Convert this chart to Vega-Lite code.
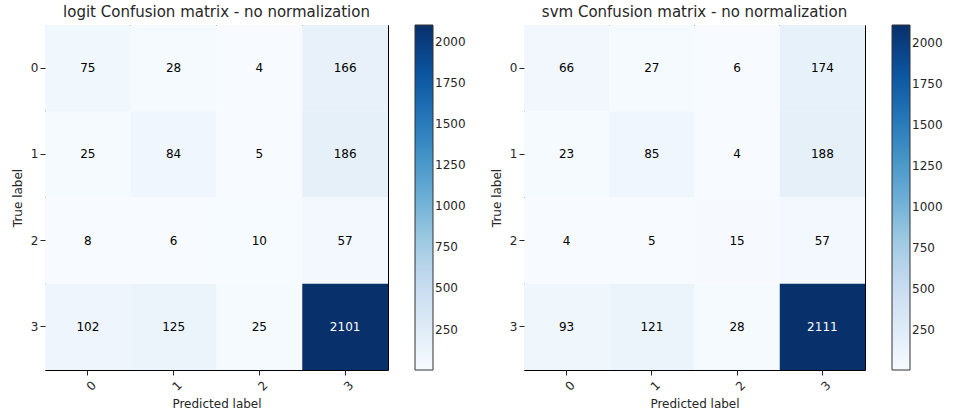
{
  "$schema": "https://vega.github.io/schema/vega-lite/v6.json",
  "padding": {"left": 10, "top": 4, "right": 0, "bottom": 0},
  "background": "white",
  "datasets": {
    "cm": [
      {"model": "logit", "true": "0", "pred": "0", "count": 75},
      {"model": "logit", "true": "0", "pred": "1", "count": 28},
      {"model": "logit", "true": "0", "pred": "2", "count": 4},
      {"model": "logit", "true": "0", "pred": "3", "count": 166},
      {"model": "logit", "true": "1", "pred": "0", "count": 25},
      {"model": "logit", "true": "1", "pred": "1", "count": 84},
      {"model": "logit", "true": "1", "pred": "2", "count": 5},
      {"model": "logit", "true": "1", "pred": "3", "count": 186},
      {"model": "logit", "true": "2", "pred": "0", "count": 8},
      {"model": "logit", "true": "2", "pred": "1", "count": 6},
      {"model": "logit", "true": "2", "pred": "2", "count": 10},
      {"model": "logit", "true": "2", "pred": "3", "count": 57},
      {"model": "logit", "true": "3", "pred": "0", "count": 102},
      {"model": "logit", "true": "3", "pred": "1", "count": 125},
      {"model": "logit", "true": "3", "pred": "2", "count": 25},
      {"model": "logit", "true": "3", "pred": "3", "count": 2101},
      {"model": "svm", "true": "0", "pred": "0", "count": 66},
      {"model": "svm", "true": "0", "pred": "1", "count": 27},
      {"model": "svm", "true": "0", "pred": "2", "count": 6},
      {"model": "svm", "true": "0", "pred": "3", "count": 174},
      {"model": "svm", "true": "1", "pred": "0", "count": 23},
      {"model": "svm", "true": "1", "pred": "1", "count": 85},
      {"model": "svm", "true": "1", "pred": "2", "count": 4},
      {"model": "svm", "true": "1", "pred": "3", "count": 188},
      {"model": "svm", "true": "2", "pred": "0", "count": 4},
      {"model": "svm", "true": "2", "pred": "1", "count": 5},
      {"model": "svm", "true": "2", "pred": "2", "count": 15},
      {"model": "svm", "true": "2", "pred": "3", "count": 57},
      {"model": "svm", "true": "3", "pred": "0", "count": 93},
      {"model": "svm", "true": "3", "pred": "1", "count": 121},
      {"model": "svm", "true": "3", "pred": "2", "count": 28},
      {"model": "svm", "true": "3", "pred": "3", "count": 2111}
    ]
  },
  "config": {
    "font": "DejaVu Sans",
    "view": {"stroke": "black", "strokeWidth": 1},
    "axis": {
      "labelFont": "DejaVu Sans", "labelFontSize": 12, "labelColor": "#262626",
      "titleFont": "DejaVu Sans", "titleFontSize": 12, "titleFontWeight": "normal", "titleColor": "#262626",
      "tickColor": "#262626", "tickSize": 5, "domain": false, "grid": false
    },
    "title": {"font": "DejaVu Sans", "fontSize": 15, "fontWeight": "normal", "color": "#262626", "offset": 5},
    "legend": {
      "labelFont": "DejaVu Sans", "labelFontSize": 12, "labelColor": "#262626", "labelOffset": 8
    }
  },
  "spacing": 22,
  "resolve": {"scale": {"color": "independent"}},
  "hconcat": [
    {
      "title": "logit Confusion matrix - no normalization",
      "width": 343, "height": 345,
      "data": {"name": "cm"},
      "transform": [{"filter": "datum.model === 'logit'"}],
      "encoding": {
        "x": {"field": "pred", "type": "ordinal", "title": "Predicted label", "scale": {"paddingInner": 0, "paddingOuter": 0}, "axis": {"labelAngle": -45, "labelAlign": "center", "labelBaseline": "top", "labelPadding": 7, "titlePadding": 6}},
        "y": {"field": "true", "type": "ordinal", "title": "True label", "scale": {"paddingInner": 0, "paddingOuter": 0}, "axis": {"labelAngle": 0, "labelPadding": 2, "titlePadding": 6}}
      },
      "layer": [
        {
          "mark": {"type": "rect", "strokeWidth": 0},
          "encoding": {
            "color": {"field": "count", "type": "quantitative", "title": null,
              "scale": {"domain": [4, 266.125, 528.25, 790.375, 1052.5, 1314.625, 1576.75, 1838.875, 2101], "range": ["#f7fbff", "#deebf7", "#c6dbef", "#9ecae1", "#6baed6", "#4292c6", "#2171b5", "#08519c", "#08306b"]},
              "legend": {"values": [250, 500, 750, 1000, 1250, 1500, 1750, 2000], "format": "d", "gradientLength": 345, "gradientThickness": 18, "gradientStrokeColor": "#333", "gradientStrokeWidth": 1, "offset": 27, "direction": "vertical"}}
          }
        },
        {
          "mark": {"type": "text", "fontSize": 12, "font": "DejaVu Sans"},
          "encoding": {
            "text": {"field": "count", "type": "quantitative"},
            "color": {"condition": {"test": "datum.count > 1050", "value": "white"}, "value": "black"}
          }
        }
      ]
    },
    {
      "title": "svm Confusion matrix - no normalization",
      "width": 341, "height": 345,
      "data": {"name": "cm"},
      "transform": [{"filter": "datum.model === 'svm'"}],
      "encoding": {
        "x": {"field": "pred", "type": "ordinal", "title": "Predicted label", "scale": {"paddingInner": 0, "paddingOuter": 0}, "axis": {"labelAngle": -45, "labelAlign": "center", "labelBaseline": "top", "labelPadding": 7, "titlePadding": 6}},
        "y": {"field": "true", "type": "ordinal", "title": "True label", "scale": {"paddingInner": 0, "paddingOuter": 0}, "axis": {"labelAngle": 0, "labelPadding": 2, "titlePadding": 6}}
      },
      "layer": [
        {
          "mark": {"type": "rect", "strokeWidth": 0},
          "encoding": {
            "color": {"field": "count", "type": "quantitative", "title": null,
              "scale": {"domain": [4, 267.375, 530.75, 794.125, 1057.5, 1320.875, 1584.25, 1847.625, 2111], "range": ["#f7fbff", "#deebf7", "#c6dbef", "#9ecae1", "#6baed6", "#4292c6", "#2171b5", "#08519c", "#08306b"]},
              "legend": {"values": [250, 500, 750, 1000, 1250, 1500, 1750, 2000], "format": "d", "gradientLength": 345, "gradientThickness": 18, "gradientStrokeColor": "#333", "gradientStrokeWidth": 1, "offset": 27, "direction": "vertical"}}
          }
        },
        {
          "mark": {"type": "text", "fontSize": 12, "font": "DejaVu Sans"},
          "encoding": {
            "text": {"field": "count", "type": "quantitative"},
            "color": {"condition": {"test": "datum.count > 1055", "value": "white"}, "value": "black"}
          }
        }
      ]
    }
  ]
}
